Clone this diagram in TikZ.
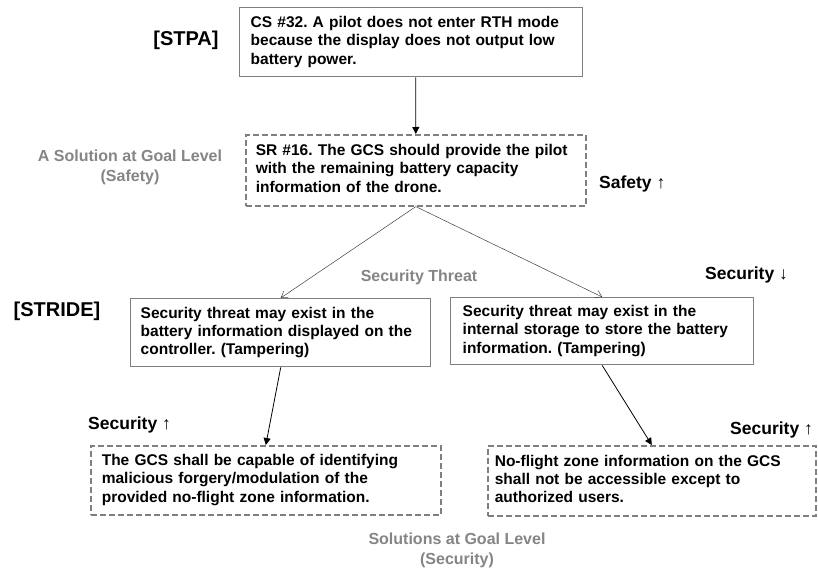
\documentclass[tikz,border=0pt]{standalone}
\usepackage{fontspec}
\setmainfont{Liberation Sans}
\usetikzlibrary{arrows.meta}
\definecolor{framegray}{HTML}{7F7F7F}
\definecolor{notegray}{HTML}{858585}
\frenchspacing
% one line per row, never rewrapped
\newcommand\boxlines[1]{\begin{tabular}{@{}l@{}}#1\end{tabular}}
\begin{document}
\begin{tikzpicture}[x=1pt,y=-1pt,
  textfont/.style={font=\fontsize{15.5}{18.3}\selectfont\bfseries},
  solidbox/.style={textfont, draw=framegray, line width=1.4pt, anchor=north west,
    inner xsep=0pt, inner ysep=0pt, align=left},
  dashbox/.style={solidbox, dash pattern=on 6pt off 3pt, line width=1.6pt},
  tag/.style={font=\fontsize{20}{24}\selectfont\bfseries, inner sep=0pt},
  lab/.style={font=\fontsize{17.5}{20}\selectfont\bfseries, inner sep=0pt, anchor=west},
  graylab/.style={font=\fontsize{16}{20}\selectfont\bfseries, text=notegray,
    inner sep=0pt, align=center},
  thinarr/.style={draw=black!75, line width=0.5pt, -{Straight Barb[length=6pt,width=8pt]}},
  arr/.style={draw=black, line width=0.8pt, -{Triangle[length=7pt,width=7pt]}}]
\fill[white] (0,0) rectangle (818,577);
\useasboundingbox (0,0) rectangle (818,577);

% STPA level
\node[solidbox, minimum width=343pt, minimum height=69pt, text width=321pt] (cs) at (239,7)
  {\boxlines{CS \#32. A pilot does not enter RTH mode\\because the display does not output low\\battery power.}};
\node[dashbox, minimum width=340pt, minimum height=71pt, text width=320pt] (sr) at (245,134)
  {\boxlines{SR \#16. The GCS should provide the pilot\\with the remaining battery capacity\\information of the drone.}};

% STRIDE threats
\node[solidbox, minimum width=300pt, minimum height=68pt, text width=280pt] (lt) at (130,298)
  {\boxlines{Security threat may exist in the\\battery information displayed on the\\controller. (Tampering)}};
\node[solidbox, minimum width=303pt, minimum height=67pt, text width=279pt] (rt) at (450,297)
  {\boxlines{Security threat may exist in the\\internal storage to store the battery\\information. (Tampering)}};

% security solutions
\node[dashbox, minimum width=350pt, minimum height=69pt, text width=328pt] (lb) at (90,445)
  {\boxlines{The GCS shall be capable of identifying\\malicious forgery/modulation of the\\provided no-flight zone information.}};
\node[dashbox, minimum width=328pt, minimum height=70pt, text width=314pt] (rb) at (487,445)
  {\boxlines{No-flight zone information on the GCS\\shall not be accessible except to\\authorized users.}};

% side labels
\node[tag] (stpa) at (186,40) {[STPA]};
\node[tag] (stride) at (57,311) {[STRIDE]};
\node[graylab] (goalsafe) at (130,167) {A Solution at Goal Level\\(Safety)};
\node[lab] (safeup) at (599,184) {Safety ↑};
\node[graylab] (threat) at (419,277) {Security Threat};
\node[lab] (secdown) at (705,275) {Security ↓};
\node[lab] (secupl) at (88,425) {Security ↑};
\node[lab] (secupr) at (730,430) {Security ↑};
\node[graylab] (goalsec) at (457,550) {Solutions at Goal Level\\(Security)};

% connectors
\draw[arr] ([xshift=4.5pt]cs.south) -- (sr.north);
\draw[thinarr] (sr.south) -- (lt.north);
\draw[thinarr] (sr.south) -- (rt.north);
\draw[arr] (lt.south) -- (lb.north);
\draw[arr] (rt.south) -- (rb.north);
\end{tikzpicture}
\end{document}
